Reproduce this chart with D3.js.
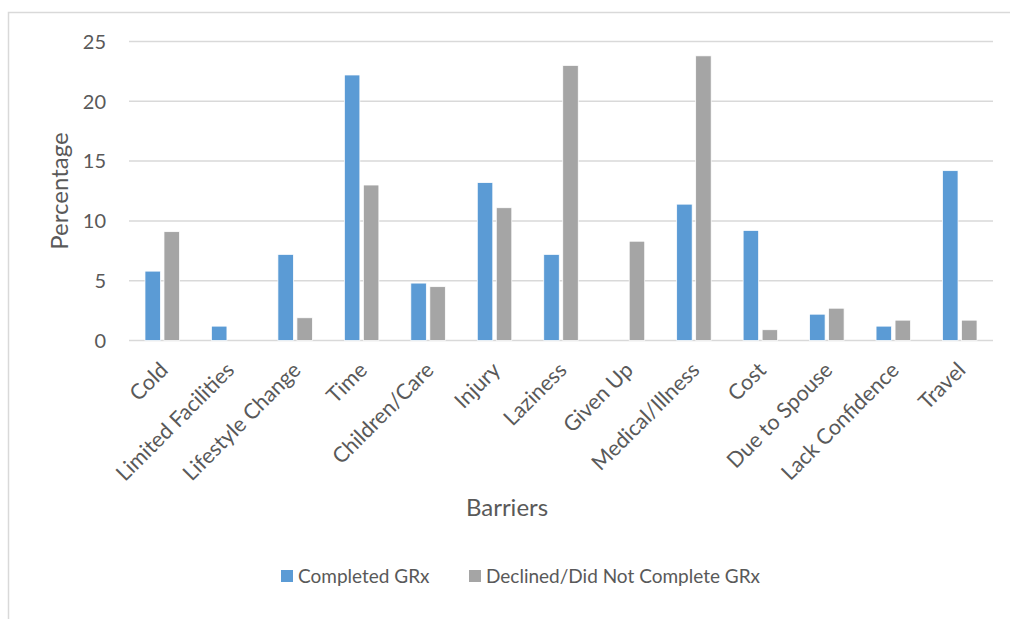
<!DOCTYPE html>
<html>
<head>
<meta charset="utf-8">
<script src="https://cdn.jsdelivr.net/npm/d3@7"></script>
<style>
  html, body { margin: 0; padding: 0; background: #fff; }
  svg { display: block; }
  text { font-family: Lato, "Open Sans", sans-serif; fill: #595959; }
</style>
</head>
<body>
<svg id="chart" width="1010" height="619"></svg>
<script>
// Barriers to exercise, by completion status (%)
const categories = ["Cold", "Limited Facilities", "Lifestyle Change", "Time", "Children/Care",
  "Injury", "Laziness", "Given Up", "Medical/Illness", "Cost", "Due to Spouse",
  "Lack Confidence", "Travel"];
const completed = [5.8, 1.2, 7.2, 22.2, 4.8, 13.2, 7.2, 0, 11.4, 9.2, 2.2, 1.2, 14.2];
const declined  = [9.1, 0, 1.9, 13.0, 4.5, 11.1, 23.0, 8.3, 23.8, 0.9, 2.7, 1.7, 1.7];
const seriesNames = ["Completed GRx", "Declined/Did Not Complete GRx"];
const yTicks = [0, 5, 10, 15, 20, 25];

const colors = ["#5B9BD5", "#A5A5A5"];
const svg = d3.select("#chart");

// chart-area frame
svg.append("path")
  .attr("d", "M8.5,619 V12.5 H1010")
  .attr("fill", "none").attr("stroke", "#D9D9D9").attr("stroke-width", 1.5);

const plot = { left: 129, right: 993, top: 41.5, bottom: 340.5 };

const x = d3.scaleBand().domain(categories).range([plot.left, plot.right]).padding(0);
const y = d3.scaleLinear().domain([0, 25]).range([plot.bottom, plot.top]);

// gridlines
svg.append("g").selectAll("line").data(yTicks).join("line")
  .attr("x1", plot.left).attr("x2", plot.right)
  .attr("y1", d => y(d)).attr("y2", d => y(d))
  .attr("stroke", "#D9D9D9").attr("stroke-width", 1.5);

// y axis labels
const yAxis = d3.axisLeft(y).tickValues(yTicks).tickSize(0).tickPadding(0);
const gy = svg.append("g").attr("transform", `translate(106,0)`).call(yAxis);
gy.select(".domain").remove();
gy.selectAll("text").attr("font-size", 20).attr("font-family", "Lato, sans-serif")
  .attr("fill", "#595959").attr("dy", "0.34em");

// bars
const barW = 15.5, gap = 3.5;
const rows = categories.map((c, i) => ({ c, vals: [completed[i], declined[i]] }));
const groups = svg.append("g").selectAll("g").data(rows).join("g")
  .attr("transform", d => `translate(${x(d.c) + x.bandwidth() / 2},0)`);
groups.selectAll("rect").data(d => d.vals.map((v, k) => ({ v, k }))).join("rect")
  .filter(d => d.v > 0)
  .attr("x", d => d.k === 0 ? -gap / 2 - barW : gap / 2)
  .attr("width", barW)
  .attr("y", d => y(d.v))
  .attr("height", d => y(0) - y(d.v))
  .attr("fill", d => colors[d.k])
  .attr("stroke", "#fff").attr("stroke-width", 0.75);

// category labels, rotated
const xAxis = d3.axisBottom(x).tickSize(0).tickPadding(0);
const gx = svg.append("g").attr("transform", `translate(0,${plot.bottom})`).call(xAxis);
gx.select(".domain").remove();
gx.selectAll("text")
  .attr("font-size", 21.5).attr("font-family", "Lato, sans-serif").attr("fill", "#595959")
  .attr("text-anchor", "end").attr("y", 0).attr("dy", 0)
  .attr("transform", "translate(7,31) rotate(-45)");

// axis titles
svg.append("text").attr("transform", `translate(68,${(plot.top + plot.bottom) / 2}) rotate(-90)`)
  .attr("text-anchor", "middle").attr("font-size", 24).text("Percentage");
svg.append("text").attr("x", 507).attr("y", 516)
  .attr("text-anchor", "middle").attr("font-size", 24).text("Barriers");

// legend
const legend = svg.append("g");
const legX = [281, 469];
seriesNames.forEach((name, k) => {
  legend.append("rect").attr("x", legX[k]).attr("y", 570).attr("width", 12).attr("height", 12)
    .attr("fill", colors[k]);
  legend.append("text").attr("x", legX[k] + 17).attr("y", 583)
    .attr("font-size", 19).text(name);
});
</script>
</body>
</html>
